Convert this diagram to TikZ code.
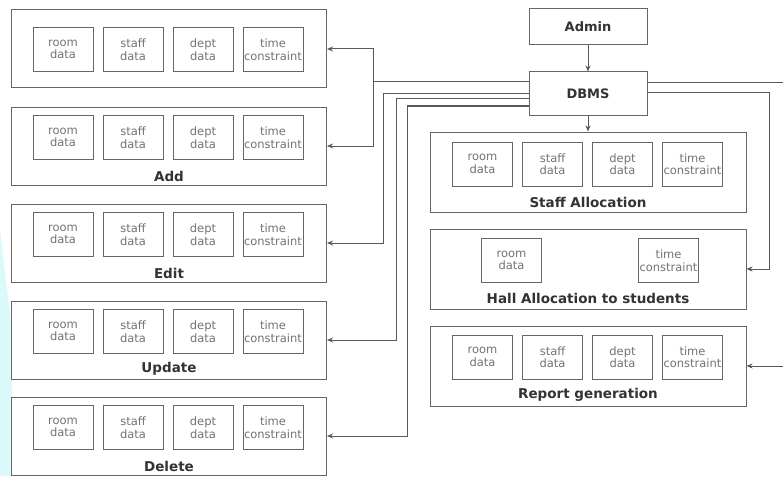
\documentclass[tikz,border=0pt]{standalone}
\usepackage{fontspec}
\setmainfont{DejaVu Sans}
\usetikzlibrary{positioning,arrows.meta,calc}
\definecolor{bgcyan}{RGB}{218,249,250}
\newcommand{\datarow}[3]{% #1 name prefix, #2 x of first box, #3 y
  \foreach \t [count=\i] in {{room\\data},{staff\\data},{dept\\data},{time\\constraint}}
    \node[dbox] (#1\i) at ({#2+70*(\i-1)},#3) {\t};
}
\tikzset{
  outer/.style={draw=black!60,fill=white,line width=1pt,inner sep=0pt,
    minimum width=315pt,minimum height=78pt},
  rbox/.style={outer,minimum width=316pt,minimum height=80pt},
  dbox/.style={draw=black!60,line width=1pt,inner sep=0pt,align=center,
    minimum width=60pt,minimum height=44pt,text=black!55,
    font=\fontsize{11.5}{12.5}\selectfont},
  topbox/.style={draw=black!60,fill=white,line width=1pt,inner sep=0pt,
    minimum width=118pt,font=\fontsize{13}{15}\selectfont\bfseries,text=black!80},
  lbl/.style={inner sep=0pt,font=\fontsize{13.5}{15}\selectfont\bfseries,text=black!80},
  conn/.style={-{Stealth[length=6pt,width=5pt]},line width=1pt,black!65},
}
\begin{document}
\begin{tikzpicture}[x=1pt,y=-1pt]
  \useasboundingbox (0,0) rectangle (783,476);
  % faint backdrop at the left edge
  \fill[bgcyan] (0,230) -- (12,330) -- (12,476) -- (0,476) -- cycle;
  % left column
  \node[outer] (lstore) at (169,49) {};
  \datarow{s}{63}{49.5}
  \node[outer] (ladd) at (169,146) {};
  \datarow{a}{63}{137.5}
  \node[lbl] (laddlbl) at (169,176) {Add};
  \node[outer] (ledit) at (169,243) {};
  \datarow{e}{63}{234.5}
  \node[lbl] (leditlbl) at (169,273) {Edit};
  \node[outer] (lupd) at (169,340) {};
  \datarow{u}{63}{331.5}
  \node[lbl] (lupdlbl) at (169,369) {Update};
  \node[outer] (ldel) at (169,436) {};
  \datarow{d}{63}{427.5}
  \node[lbl] (ldellbl) at (169,466) {Delete};
  % right column
  \node[topbox,minimum height=36pt] (admin) at (588,27) {Admin};
  \node[topbox,minimum height=43pt] (dbms) at (588,93.5) {DBMS};
  \node[rbox] (sstaff) at (588,172) {};
  \datarow{f}{482.5}{164}
  \node[lbl] (sstafflbl) at (588,202) {Staff Allocation};
  \node[rbox] (hall) at (588,269) {};
  \node[dbox] (hroom) at (511.5,260.5) {room\\data};
  \node[dbox] (htime) at (668.5,260.5) {time\\constraint};
  \node[lbl] (halllbl) at (588,298) {Hall Allocation to students};
  \node[rbox] (rep) at (588,366) {};
  \datarow{r}{482.5}{357}
  \node[lbl] (replbl) at (588,395) {Report generation};
  % connectors
  \draw[conn] (admin) -- (dbms);
  \draw[conn] (dbms) -- (sstaff);
  \draw[conn] ([yshift=11.5pt]dbms.west) -- ++(-155,0) |- (lstore.east);
  \draw[conn] ([yshift=11.5pt]dbms.west) -- ++(-155,0) |- (ladd.east);
  \draw[conn] (dbms.west) -- ++(-145,0) |- (ledit.east);
  \draw[conn] ([yshift=-5.5pt]dbms.west) -- ++(-132,0) |- (lupd.east);
  \draw[conn] ([yshift=-12.5pt]dbms.west) -- ++(-121,0) |- (ldel.east);
  \draw[conn] ([yshift=0.5pt]dbms.east) -- ++(122,0) |- (hall.east);
  \draw[conn] ([yshift=10.5pt]dbms.east) -- ++(140,0) |- (rep.east);
\end{tikzpicture}
\end{document}
